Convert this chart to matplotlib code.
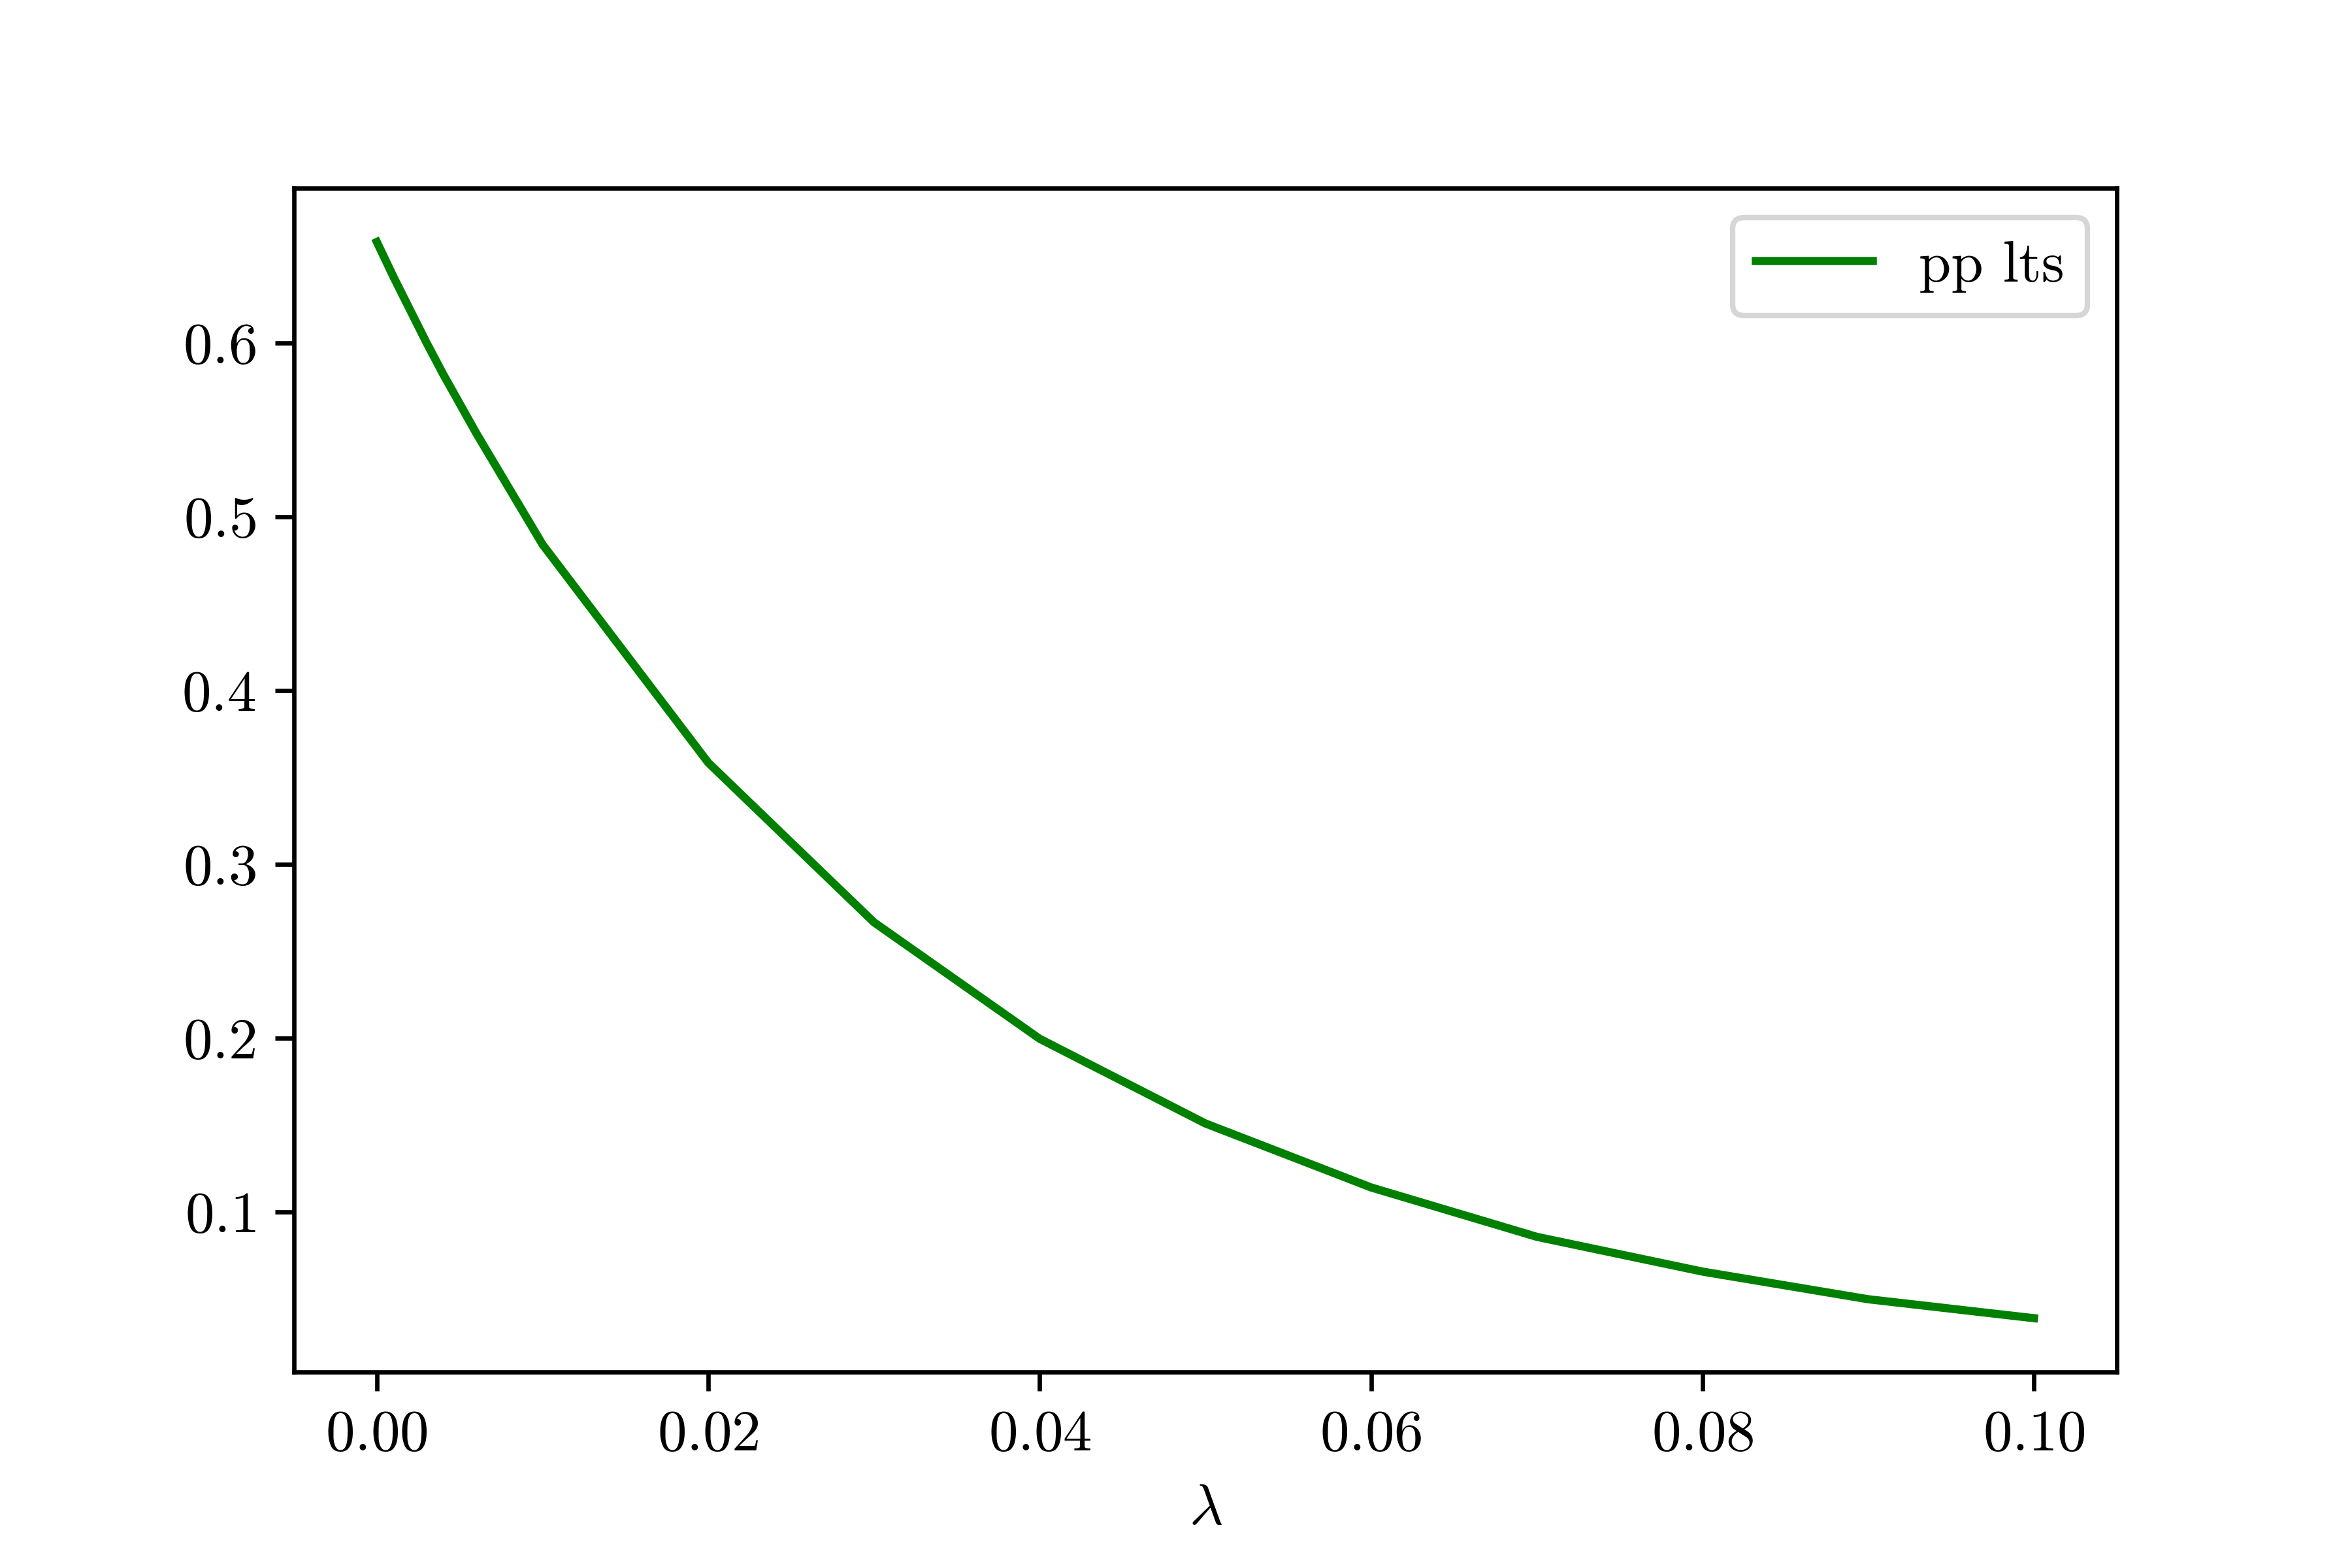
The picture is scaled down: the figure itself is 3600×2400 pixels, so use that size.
import matplotlib
matplotlib.use("Agg")
import matplotlib.pyplot as plt

# Computer Modern look without LaTeX
plt.rcParams["font.family"] = "serif"
plt.rcParams["font.serif"] = ["cmr10", "DejaVu Serif"]
plt.rcParams["font.size"] = 10.7
plt.rcParams["mathtext.fontset"] = "cm"
plt.rcParams["axes.formatter.use_mathtext"] = True

# ---------------------------------------
# data
# ---------------------------------------
lam = [0.000, 0.001, 0.002, 0.003, 0.004, 0.005, 0.006, 0.007, 0.008, 0.009,
       0.01, 0.02, 0.03, 0.04, 0.05, 0.06, 0.07, 0.08, 0.09, 0.10]
pp_lts = [0.658, 0.638, 0.619, 0.600, 0.582, 0.565, 0.548, 0.532, 0.516, 0.500,
          0.484, 0.3585, 0.2667, 0.1997, 0.151, 0.1142, 0.0858, 0.0658, 0.0499, 0.039]

fig = plt.figure(figsize=(6, 4))
fig.subplots_adjust(left=0.125, right=0.9, top=0.88, bottom=0.125)
ax = fig.add_subplot(111)
ax.plot(lam, pp_lts, color="green", label="pp lts")
ax.set_xlabel(r"$\lambda$")
ax.legend()

fig.savefig("out.png", dpi=600)
